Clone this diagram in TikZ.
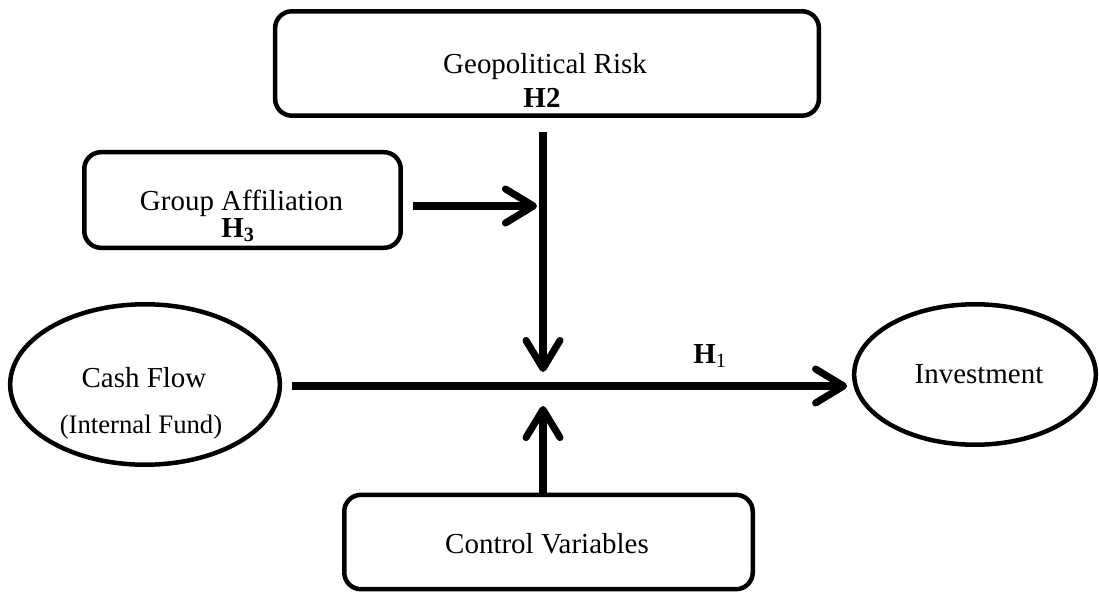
\documentclass[tikz,border=0pt]{standalone}
\usepackage{fontspec}
\setmainfont{Liberation Serif}
\usetikzlibrary{arrows.meta,shapes.geometric}

\tikzset{
  rbox/.style={draw, line width=3.2pt, rounded corners=0.42cm, inner sep=0pt},
  oval/.style={draw, ellipse, line width=3.2pt, inner sep=0pt},
  txt/.style={font=\fontsize{20.6}{24}\selectfont, inner sep=0pt, anchor=base},
  arr/.style={line width=5pt, -{Straight Barb[length=0.7cm, width=0.85cm, round]}},
}

\begin{document}
\begin{tikzpicture}[x=0.025cm, y=-0.025cm]
	\useasboundingbox (0,0) rectangle (1099,592);
	% boxes and ovals
	\node[rbox, minimum width=13.59cm, minimum height=2.61cm] (geo) at (547,63.5) {};
	\node[rbox, minimum width=7.91cm, minimum height=2.39cm] (grp) at (242.5,200) {};
	\node[rbox, minimum width=10.21cm, minimum height=2.36cm] (ctrl) at (548.5,542) {};
	\node[oval, minimum width=6.74cm, minimum height=4.01cm] (cash) at (145,384.5) {};
	\node[oval, minimum width=6.04cm, minimum height=3.51cm] (invest) at (975,374.5) {};
	% texts
	\node[txt] (geotxt) at (545,73) {Geopolitical Risk};
	\node[txt] (h2) at (542,107) {\textbf{H2}};
	\node[txt] (grptxt) at (241.5,210) {Group Affiliation};
	\node[txt] (h3) at (238,237) {\textbf{H}\textsubscript{\textbf{3}}};
	\node[txt] (cashtxt) at (144,387) {Cash Flow};
	\node[txt, font=\fontsize{19}{22}\selectfont] (fundtxt) at (141,433) {(Internal Fund)};
	\node[txt] (investtxt) at (979,383) {Investment};
	\node[txt] (ctrltxt) at (547,553) {Control Variables};
	\node[txt, anchor=base west] (h1) at (693,363) {\textbf{H}\textsubscript{1}};
	% junction points on the main path
	\coordinate (hub) at (543,386);
	\coordinate (gate) at (543,206);
	% connectors
	\draw[arr] ([xshift=0.25cm]cash.east |- hub) -- ([xshift=-0.12cm]invest.west |- hub);
	\draw[arr] ([yshift=-0.35cm]geo.south -| hub) -- ([yshift=0.35cm]hub);
	\draw[arr] (ctrl.north -| hub) -- ([yshift=-0.5cm]hub);
	\draw[arr] ([xshift=0.25cm]grp.east |- gate) -- ([xshift=-0.15cm]gate);
\end{tikzpicture}
\end{document}
